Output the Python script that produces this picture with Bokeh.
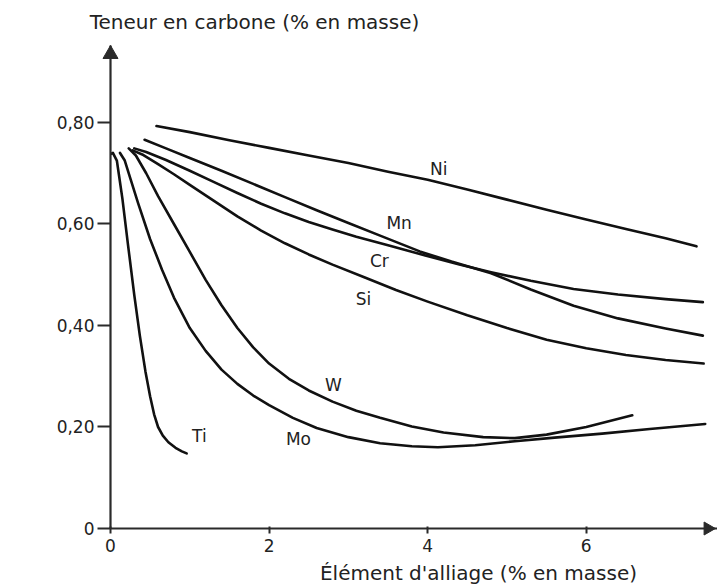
import math
from bokeh.plotting import figure
from bokeh.models import Range1d, FixedTicker, CustomJSTickFormatter
from bokeh.core.properties import value
from bokeh.embed import file_html
from bokeh.resources import INLINE

# Eutectoid carbon content (% mass) versus alloying element content (% mass)
ni_x = [0.58, 1.0, 1.5, 2.0, 2.5, 3.0, 3.5, 4.0, 4.5, 5.0, 5.5, 6.0, 6.5, 7.0, 7.39]
ni_y = [0.793, 0.781, 0.765, 0.750, 0.735, 0.720, 0.703, 0.687, 0.668, 0.648, 0.628, 0.609, 0.590, 0.572, 0.556]

mn_x = [0.43, 0.7, 1.0, 1.4, 1.8, 2.2, 2.6, 3.0, 3.4, 3.9, 4.3, 4.8, 5.3, 5.84, 6.4, 7.0, 7.47]
mn_y = [0.766, 0.749, 0.730, 0.705, 0.679, 0.653, 0.627, 0.602, 0.577, 0.546, 0.526, 0.503, 0.471, 0.439, 0.414, 0.394, 0.380]

cr_x = [0.30, 0.45, 0.7, 1.0, 1.3, 1.6, 1.9, 2.2, 2.5, 2.8, 3.1, 3.5, 3.97, 4.4, 4.8, 5.3, 5.84, 6.4, 7.0, 7.47]
cr_y = [0.749, 0.742, 0.726, 0.705, 0.683, 0.661, 0.640, 0.621, 0.604, 0.589, 0.575, 0.558, 0.538, 0.520, 0.505, 0.488, 0.472, 0.461, 0.452, 0.446]

si_x = [0.28, 0.4, 0.6, 0.8, 1.0, 1.3, 1.6, 1.9, 2.2, 2.5, 2.8, 3.2, 3.6, 4.0, 4.5, 5.0, 5.5, 6.0, 6.5, 7.0, 7.48]
si_y = [0.745, 0.737, 0.718, 0.698, 0.677, 0.646, 0.615, 0.587, 0.562, 0.540, 0.520, 0.495, 0.470, 0.447, 0.420, 0.395, 0.372, 0.355, 0.342, 0.332, 0.325]

w_x = [0.23, 0.32, 0.45, 0.6, 0.8, 1.0, 1.2, 1.4, 1.6, 1.8, 2.0, 2.25, 2.5, 2.8, 3.1, 3.4, 3.8, 4.2, 4.7, 5.1, 5.5, 6.0, 6.58]
w_y = [0.749, 0.735, 0.700, 0.655, 0.600, 0.545, 0.490, 0.440, 0.395, 0.357, 0.325, 0.295, 0.272, 0.250, 0.232, 0.218, 0.201, 0.189, 0.180, 0.178, 0.185, 0.200, 0.223]

mo_x = [0.12, 0.18, 0.25, 0.35, 0.5, 0.65, 0.8, 1.0, 1.2, 1.4, 1.6, 1.8, 2.0, 2.3, 2.6, 3.0, 3.4, 3.8, 4.13, 4.6, 5.1, 5.6, 6.2, 6.8, 7.5]
mo_y = [0.740, 0.725, 0.690, 0.640, 0.570, 0.510, 0.455, 0.395, 0.350, 0.313, 0.285, 0.262, 0.243, 0.218, 0.198, 0.180, 0.168, 0.162, 0.160, 0.164, 0.172, 0.179, 0.187, 0.196, 0.206]

ti_x = [0.0, 0.03, 0.08, 0.15, 0.22, 0.30, 0.37, 0.44, 0.50, 0.55, 0.60, 0.66, 0.73, 0.82, 0.90, 0.96]
ti_y = [0.738, 0.740, 0.725, 0.650, 0.560, 0.460, 0.380, 0.310, 0.260, 0.225, 0.200, 0.183, 0.170, 0.159, 0.152, 0.148]

series = {
    "Ni": (ni_x, ni_y), "Mn": (mn_x, mn_y), "Cr": (cr_x, cr_y), "Si": (si_x, si_y),
    "W": (w_x, w_y), "Mo": (mo_x, mo_y), "Ti": (ti_x, ti_y),
}

# Where each element name is written next to its curve
label_names = ["Ni", "Mn", "Cr", "Si", "W", "Mo", "Ti"]
label_x = [4.14, 3.64, 3.39, 3.19, 2.81, 2.37, 1.12]
label_y = [0.709, 0.601, 0.528, 0.453, 0.282, 0.177, 0.183]

x_ticks = [0, 2, 4, 6]
y_ticks = [0, 0.2, 0.4, 0.6, 0.8]

y_title = "Teneur en carbone (% en masse)"
x_title = "Élément d'alliage (% en masse)"

FONT = "DejaVu Sans"
INK = "#111111"
AXIS = "#2a2a2a"

W, H = 717, 587
LEFT, BOTTOM, TOP = 110, 59, 45
X_END, Y_END = 7.655, 0.9517
px_x = (W - LEFT) / X_END            # pixels per unit along x
px_y = (H - BOTTOM - TOP) / Y_END    # pixels per unit along y

p = figure(width=W, height=H, output_backend="svg", toolbar_location=None,
           x_range=Range1d(0, X_END), y_range=Range1d(0, Y_END),
           min_border_left=LEFT, min_border_right=0,
           min_border_top=TOP, min_border_bottom=BOTTOM)
p.outline_line_color = None
p.grid.visible = False
p.background_fill_color = "white"
p.border_fill_color = "white"

for ax in (p.xaxis[0], p.yaxis[0]):
    ax.axis_line_width = 2.2
    ax.axis_line_color = AXIS
    ax.major_tick_line_width = 2
    ax.major_tick_line_color = AXIS
    ax.minor_tick_line_color = None
    ax.major_label_text_font = FONT
    ax.major_label_text_font_size = "17px"
    ax.major_label_text_color = "#222222"

p.xaxis.ticker = FixedTicker(ticks=x_ticks)
p.xaxis.major_tick_in = 2
p.xaxis.major_tick_out = 5
p.xaxis.major_label_standoff = 5

p.yaxis.ticker = FixedTicker(ticks=y_ticks)
p.yaxis.major_tick_in = 0
p.yaxis.major_tick_out = 13
p.yaxis.major_label_standoff = 3
p.yaxis.formatter = CustomJSTickFormatter(
    code='return tick == 0 ? "0" : tick.toFixed(2).replace(".", ",");')

# Arrow heads closing both axes (triangle tip sits 2/3 of its height from its centre)
head = 15
tip_offset = (head / 2) * math.sqrt(3) * 2 / 3
p.scatter(x=[0], y=[Y_END - tip_offset / px_y], marker="triangle", size=head,
          fill_color=AXIS, line_color=AXIS, level="overlay")
p.scatter(x=[X_END - (tip_offset + 1) / px_x], y=[0], marker="triangle", size=13,
          angle=-math.pi / 2, fill_color=AXIS, line_color=AXIS, level="overlay")

for name, (xs, ys) in series.items():
    p.line(xs, ys, line_width=2.6, line_color=INK, line_join="round", line_cap="round")

p.text(x=label_x, y=label_y, text=label_names, text_font=value(FONT),
       text_font_size="17px", text_align="center", text_baseline="middle",
       text_color="#222222")

# Axis titles, drawn above the frame's clipping so they can sit in the margins
p.text(x=[(254 - LEFT) / px_x], y=[(H - BOTTOM - 21) / px_y], text=[y_title],
       text_font=value(FONT), text_font_size="20px", text_align="center",
       text_baseline="middle", text_color="#222222", level="overlay")
p.text(x=[(478 - LEFT) / px_x], y=[(H - BOTTOM - 572) / px_y], text=[x_title],
       text_font=value(FONT), text_font_size="20px", text_align="center",
       text_baseline="middle", text_color="#222222", level="overlay")

open("out.html", "w").write(file_html(p, INLINE))
